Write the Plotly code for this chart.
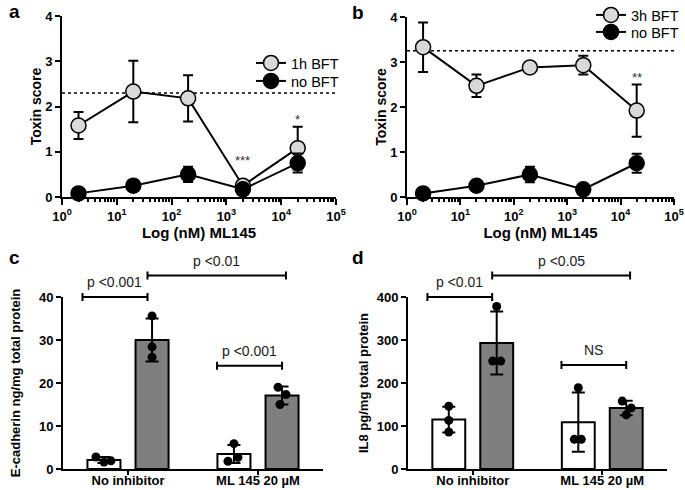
import plotly.graph_objects as go
import math

# ---------------- data ----------------
doses = [2, 20, 200, 2000, 20000]
bft1h_mean = [1.58, 2.33, 2.18, 0.25, 1.08]
bft1h_err = [0.30, 0.68, 0.51, 0.10, 0.47]
nobft_mean = [0.08, 0.25, 0.50, 0.17, 0.75]
nobft_err = [0.03, 0.04, 0.17, 0.05, 0.21]
bft3h_mean = [3.33, 2.47, 2.88, 2.93, 1.92]
bft3h_err = [0.55, 0.25, 0.09, 0.21, 0.58]
baseline_a = 2.3
baseline_b = 3.25
stars_a = [(2000, 0.80, "***"), (20000, 1.72, "*")]
stars_b = [(20000, 2.66, "**")]

groups = ["No inhibitor", "ML 145 20 µM"]
ecad_ctrl_mean = [2.1, 3.5]
ecad_ctrl_sd = [0.7, 2.1]
ecad_bft_mean = [30.0, 17.1]
ecad_bft_sd = [5.0, 2.1]
ecad_ctrl_pts = [[2.8, 1.6, 1.9], [5.9, 1.8, 2.7]]
ecad_bft_pts = [[35.6, 28.4, 26.0], [19.0, 17.3, 15.0]]

il8_ctrl_mean = [115, 109]
il8_ctrl_sd = [30, 69]
il8_bft_mean = [293, 142]
il8_bft_sd = [73, 17]
il8_ctrl_pts = [[146, 113, 86], [189, 69, 69]]
il8_bft_pts = [[378, 251, 251], [158, 142, 126]]

# brackets: (x0, x1, y, label)
brackets_c = [(-0.35, 0.15, 40, "p <0.001"), (0.15, 1.215, 45, "p <0.01"), (0.685, 1.185, 24, "p <0.001")]
brackets_d = [(-0.35, 0.15, 400, "p <0.01"), (0.15, 1.215, 450, "p <0.05"), (0.685, 1.185, 242, "NS")]

# ---------------- layout helpers ----------------
W, H = 685, 490
FONT = "Liberation Sans, Arial, Helvetica, sans-serif"
panels = {
    "a": dict(xpx=(62, 336), ypx=(197, 16), xr=(0, 5), yr=(0, 4), log=True),
    "b": dict(xpx=(407, 674), ypx=(197, 17), xr=(0, 5), yr=(0, 4), log=True),
    "c": dict(xpx=(63, 323), ypx=(469, 297), xr=(-0.5, 1.5), yr=(0, 40), log=False),
    "d": dict(xpx=(408, 667), ypx=(469, 297), xr=(-0.5, 1.5), yr=(0, 400), log=False),
}
for p in panels.values():
    p["xd"] = [p["xpx"][0] / W, p["xpx"][1] / W]
    p["yd"] = [1 - p["ypx"][0] / H, 1 - p["ypx"][1] / H]


def to_paper(pn, x, y):
    p = panels[pn]
    xv = math.log10(x) if p["log"] else x
    fx = (xv - p["xr"][0]) / (p["xr"][1] - p["xr"][0])
    fy = (y - p["yr"][0]) / (p["yr"][1] - p["yr"][0])
    return (p["xd"][0] + fx * (p["xd"][1] - p["xd"][0]),
            p["yd"][0] + fy * (p["yd"][1] - p["yd"][0]))


fig = go.Figure()

GRAY_MK = "#d9d9d9"
BAR_GRAY = "#7f7f7f"


def line_trace(x, y, e, name, fill, xa, ya, legend):
    return go.Scatter(
        x=x, y=y, name=name, mode="lines+markers", xaxis=xa, yaxis=ya, legend=legend,
        line=dict(color="black", width=2),
        marker=dict(size=15, color=fill, line=dict(color="black", width=1.5)),
        error_y=dict(type="data", array=e, color="black", thickness=2, width=5),
        cliponaxis=False,
    )


# baselines
for xa, ya, val in [("x", "y", baseline_a), ("x2", "y2", baseline_b)]:
    fig.add_trace(go.Scatter(x=[1, 1e5], y=[val, val], mode="lines", xaxis=xa, yaxis=ya,
                             line=dict(color="black", width=1.5, dash="dot"),
                             showlegend=False, hoverinfo="skip"))

fig.add_trace(line_trace(doses, bft1h_mean, bft1h_err, "1h BFT", GRAY_MK, "x", "y", "legend"))
fig.add_trace(line_trace(doses, nobft_mean, nobft_err, "no BFT", "black", "x", "y", "legend3"))
fig.add_trace(line_trace(doses, bft3h_mean, bft3h_err, "3h BFT", GRAY_MK, "x2", "y2", "legend2"))
fig.add_trace(line_trace(doses, nobft_mean, nobft_err, "no BFT", "black", "x2", "y2", "legend4"))

# bar panels
OFF = 0.185
BW = 0.254
jit_c = {"ctrl": [[-8, 0, 7], [0, -6, 4]], "bft": [[0, 0, 0], [-4, 4, -2]]}
jit_d = {"ctrl": [[0, 0, 0], [0, -4, 3]], "bft": [[0, -4, 4], [-4, 5, 0]]}
PXU = 130.0


def bar_panel(xa, ya, cm, csd, bm, bsd, cpts, bpts, jit, capw):
    for mean, sd, pts, color, off, key in [(cm, csd, cpts, "white", -OFF, "ctrl"),
                                           (bm, bsd, bpts, BAR_GRAY, OFF, "bft")]:
        xs = [i + off for i in range(len(groups))]
        fig.add_trace(go.Bar(x=xs, y=mean, width=BW, xaxis=xa, yaxis=ya, showlegend=False,
                             marker=dict(color=color, line=dict(color="black", width=2)),
                             error_y=dict(type="data", array=sd, color="black", thickness=2, width=capw)))
        dx, dy = [], []
        for i, gp in enumerate(pts):
            for j, v in enumerate(gp):
                dx.append(i + off + jit[key][i][j] / PXU)
                dy.append(v)
        fig.add_trace(go.Scatter(x=dx, y=dy, mode="markers", xaxis=xa, yaxis=ya, showlegend=False,
                                 marker=dict(size=9, color="black"), cliponaxis=False))


bar_panel("x3", "y3", ecad_ctrl_mean, ecad_ctrl_sd, ecad_bft_mean, ecad_bft_sd,
          ecad_ctrl_pts, ecad_bft_pts, jit_c, 6.5)
bar_panel("x4", "y4", il8_ctrl_mean, il8_ctrl_sd, il8_bft_mean, il8_bft_sd,
          il8_ctrl_pts, il8_bft_pts, jit_d, 6.5)

shapes = []
annotations = []
CAP = 4.0 / H
for pn, brs in [("c", brackets_c), ("d", brackets_d)]:
    for x0, x1, y, lab in brs:
        px0, py = to_paper(pn, x0, y)
        px1, _ = to_paper(pn, x1, y)
        path = (f"M{px0},{py - CAP} L{px0},{py + CAP} M{px0},{py} L{px1},{py} "
                f"M{px1},{py - CAP} L{px1},{py + CAP}")
        shapes.append(dict(type="path", path=path, xref="paper", yref="paper",
                           line=dict(color="black", width=2)))
        annotations.append(dict(x=(px0 + px1) / 2, y=py + 5 / H, xref="paper", yref="paper",
                                text=lab, showarrow=False, xanchor="center", yanchor="bottom",
                                font=dict(family=FONT, size=14, color="#1a1a1a")))

for pn, st in [("a", stars_a), ("b", stars_b)]:
    for x, y, s in st:
        px, py = to_paper(pn, x, y)
        annotations.append(dict(x=px, y=py, xref="paper", yref="paper", text=s, showarrow=False,
                                xanchor="center", yanchor="middle",
                                font=dict(family=FONT, size=13, color="#333333")))

for lab, x, y in [("a", 7, 12), ("b", 350, 13), ("c", 7, 257), ("d", 350, 257)]:
    annotations.append(dict(x=x / W, y=1 - y / H, xref="paper", yref="paper", text=lab,
                            showarrow=False, xanchor="left", yanchor="middle",
                            font=dict(family=FONT, size=19, color="black", weight="bold")))

# axes
minor_vals = [m * 10 ** k for k in range(5) for m in range(2, 10)]
log_ticktext = [f"10<sup>{k}</sup>" for k in range(6)]
tickfont = dict(family=FONT, size=13, color="black", weight="bold")


def log_x(pn, anchor):
    p = panels[pn]
    return dict(type="log", domain=p["xd"], range=list(p["xr"]), anchor=anchor, automargin=False,
                showline=True, linecolor="black", linewidth=2, ticks="outside", ticklen=6,
                tickwidth=2, tickcolor="black", tickvals=[10 ** k for k in range(6)],
                ticktext=log_ticktext, tickfont=tickfont, showgrid=False, zeroline=False,
                minor=dict(ticks="outside", ticklen=3, tickwidth=1.5, tickcolor="black",
                           tickvals=minor_vals, showgrid=False),
                title=dict(text="Log (nM) ML145", font=dict(family=FONT, size=15, color="black",
                                                            weight="bold"), standoff=0))


def lin_y(pn, anchor, dtick, title, standoff, tsize=14):
    p = panels[pn]
    return dict(domain=p["yd"], range=list(p["yr"]), anchor=anchor, showline=True, automargin=False,
                linecolor="black", linewidth=2, ticks="outside", ticklen=5, tickwidth=2,
                tickcolor="black", dtick=dtick, tick0=0, tickfont=tickfont, showgrid=False,
                zeroline=False,
                title=dict(text=title, font=dict(family=FONT, size=tsize, color="black",
                                                 weight="bold"), standoff=standoff))


def cat_x(pn, anchor):
    p = panels[pn]
    return dict(domain=p["xd"], range=list(p["xr"]), anchor=anchor, showline=True, automargin=False,
                linecolor="black", linewidth=2, ticks="outside", ticklen=4, tickwidth=2,
                tickcolor="black", tickvals=list(range(len(groups))), ticktext=groups,
                ticklabelstandoff=-6,
                tickfont=tickfont, showgrid=False, zeroline=False)


def legend_at(xpx, ypx):
    return dict(x=xpx / W, y=1 - ypx / H, xanchor="left", yanchor="middle",
                bgcolor="rgba(0,0,0,0)", font=dict(family=FONT, size=14.5, color="black"))


fig.update_layout(
    width=W, height=H, margin=dict(l=0, r=0, t=0, b=0, autoexpand=False),
    paper_bgcolor="white", plot_bgcolor="white", barmode="overlay",
    font=dict(family=FONT, color="black"),
    xaxis=log_x("a", "y"), yaxis=lin_y("a", "x", 1, "Toxin score", 0),
    xaxis2=log_x("b", "y2"), yaxis2=lin_y("b", "x2", 1, "Toxin score", 0),
    xaxis3=cat_x("c", "y3"), yaxis3=lin_y("c", "x3", 10, "E-cadherin ng/mg total protein", 15, 13),
    xaxis4=cat_x("d", "y4"), yaxis4=lin_y("d", "x4", 100, "IL8 pg/mg total protein", 5, 13),
    legend=legend_at(251, 63),
    legend3=legend_at(251, 81),
    legend2=legend_at(591, 15),
    legend4=legend_at(591, 32),
    shapes=shapes, annotations=annotations, showlegend=True,
)

fig.write_html("out.html", config={"displayModeBar": False},
               post_script="document.body.style.margin='0px';document.body.style.overflow='hidden';")
